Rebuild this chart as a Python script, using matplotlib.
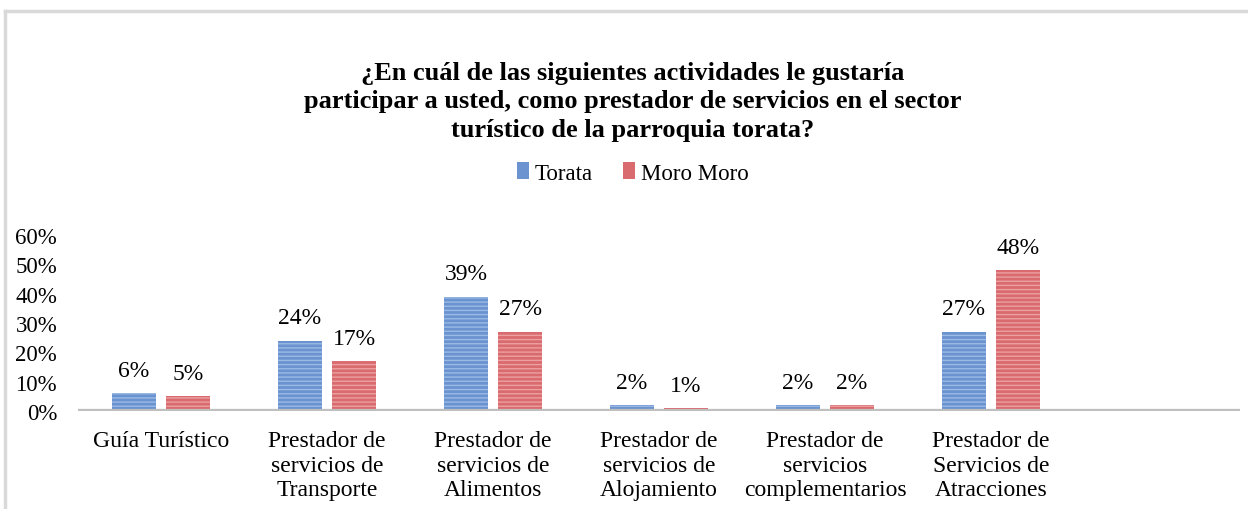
import matplotlib
matplotlib.use("Agg")
import matplotlib.pyplot as plt
from matplotlib.patches import Patch
from matplotlib.lines import Line2D
import numpy as np

categories = ["Guía Turístico",
              "Prestador de\nservicios de\nTransporte",
              "Prestador de\nservicios de\nAlimentos",
              "Prestador de\nservicios de\nAlojamiento",
              "Prestador de\nservicios\ncomplementarios",
              "Prestador de\nServicios de\nAtracciones",
              ""]
torata = [6, 24, 39, 2, 2, 27]
moro_moro = [5, 17, 27, 1, 2, 48]
series_names = ["Torata", "Moro Moro"]
yticks = [0, 10, 20, 30, 40, 50, 60]
title = ("¿En cuál de las siguientes actividades le gustaría\n"
         "participar a usted, como prestador de servicios en el sector\n"
         "turístico de la parroquia torata?")

plt.rcParams['font.family'] = ['Liberation Serif', 'DejaVu Serif']

fig = plt.figure(figsize=(12.48, 5.10), dpi=100)
ax = fig.add_axes([78/1248, 98/510, 1162/1248, 176/510])

blue_face, blue_hatch = "#6b93d0", "#9bbbe6"
red_face, red_hatch = "#d96a6e", "#eca0a2"

x = np.arange(len(torata))
w = 0.27
off = 0.163
b1 = ax.bar(x - off, torata, w, color=blue_face, edgecolor=blue_hatch,
            linewidth=0, hatch="----", zorder=2)
b2 = ax.bar(x + off, moro_moro, w, color=red_face, edgecolor=red_hatch,
            linewidth=0, hatch="----", zorder=2)

fs = 17
for bars, vals in ((b1, torata), (b2, moro_moro)):
    for r, v in zip(bars, vals):
        ax.annotate(f"{v}%", (r.get_x() + r.get_width()/2, v),
                    xytext=(0, 9), textcoords="offset points",
                    ha="center", va="bottom", fontsize=fs, color="#000000")

ax.axhline(0, color="#bfbfbf", lw=3.8, zorder=3)
ax.set_xlim(-0.5, len(categories) - 0.5)
ax.set_ylim(0, 60)
ax.set_yticks(yticks)
ax.set_yticklabels([f"{t}%" for t in yticks], fontsize=16.5)
ax.set_xticks(np.arange(len(categories)))
ax.set_xticklabels(categories, fontsize=fs, linespacing=1.22, va="top")
ax.tick_params(axis="both", length=0)
ax.tick_params(axis="y", pad=15)
ax.tick_params(axis="x", pad=14)
for s in ax.spines.values():
    s.set_visible(False)

fig.text(0.507, 1 - 102/510, title, ha="center", va="center",
         fontsize=19, fontweight="bold", linespacing=1.3)

handles = [Patch(facecolor=blue_face, edgecolor=blue_hatch, linewidth=0),
           Patch(facecolor=red_face, edgecolor=red_hatch, linewidth=0)]
fig.legend(handles, series_names, loc="center", bbox_to_anchor=(0.507, 1 - 174/510),
           ncol=2, frameon=False, fontsize=16.5, handlelength=0.55, handleheight=0.75,
           handletextpad=0.25, columnspacing=1.3)

border = "#d9d9d9"
fig.add_artist(Line2D([5/1248, 1], [1 - 12/510, 1 - 12/510], color=border, lw=2.5,
                      transform=fig.transFigure))
fig.add_artist(Line2D([5/1248, 5/1248], [0, 1 - 12/510], color=border, lw=2.5,
                      transform=fig.transFigure))

fig.savefig("out.png", dpi=100, facecolor="white")
